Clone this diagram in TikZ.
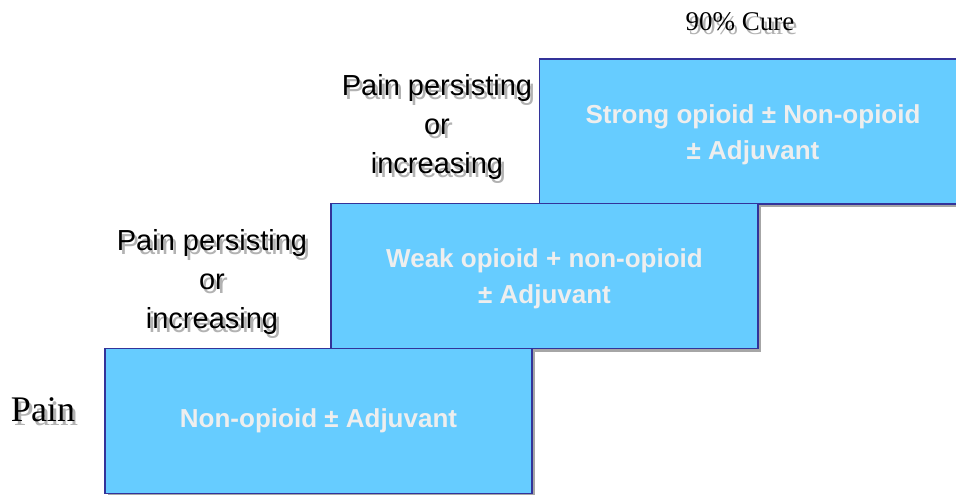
\documentclass[tikz,border=0pt]{standalone}
\usepackage{fontspec}
\setmainfont{Liberation Sans}
\newfontfamily\timesfont{Liberation Serif}
\usetikzlibrary{positioning,shadows}

\definecolor{boxblue}{HTML}{66CCFF}
\definecolor{boxedge}{HTML}{333399}
\definecolor{boxtext}{HTML}{EEEEEE}

\tikzset{
  stepbox/.style={draw=boxedge, line width=1.2pt, fill=boxblue, minimum width=427pt, minimum height=145pt,
    inner sep=0pt, align=center, text=boxtext, font=\fontsize{26}{36}\selectfont\bfseries,
    drop shadow={shadow xshift=3pt, shadow yshift=-3pt, fill=black!35, opacity=1}},
  steplbl/.style={align=center, inner sep=0pt, font=\fontsize{29}{39}\selectfont},
  endlbl/.style={inner sep=0pt, font=\timesfont\fontsize{27}{30}\selectfont},
  painlbl/.style={inner sep=0pt, font=\timesfont\fontsize{36}{40}\selectfont},
}

% text with a grey copy behind it
\newcommand{\shadelabel}[4]{%
  \node[#2, text=black!30, xshift=3pt, yshift=-4pt] (#1s) at (#3) {#4};
  \node[#2] (#1) at (#3) {#4};}

\begin{document}
\begin{tikzpicture}[x=1pt,y=-1pt]
\useasboundingbox (0,0) rectangle (956,495);

% the three steps, top one first so the shadows stay behind
\node[stepbox] (b3) at (753,131.5) {\strut Strong opioid ± Non-opioid\\± Adjuvant};
\node[stepbox] (b2) at (544.5,276) {\strut Weak opioid + non-opioid\\± Adjuvant};
\node[stepbox] (b1) at (318.5,421) {Non-opioid ± Adjuvant};

\shadelabel{l1}{steplbl}{212,282}{Pain persisting\\or\\increasing}
\shadelabel{l2}{steplbl}{437,127}{Pain persisting\\or\\increasing}
\shadelabel{pain}{painlbl}{43,410}{Pain}
\shadelabel{cure}{endlbl}{740,22}{90\% Cure}

\end{tikzpicture}
\end{document}
